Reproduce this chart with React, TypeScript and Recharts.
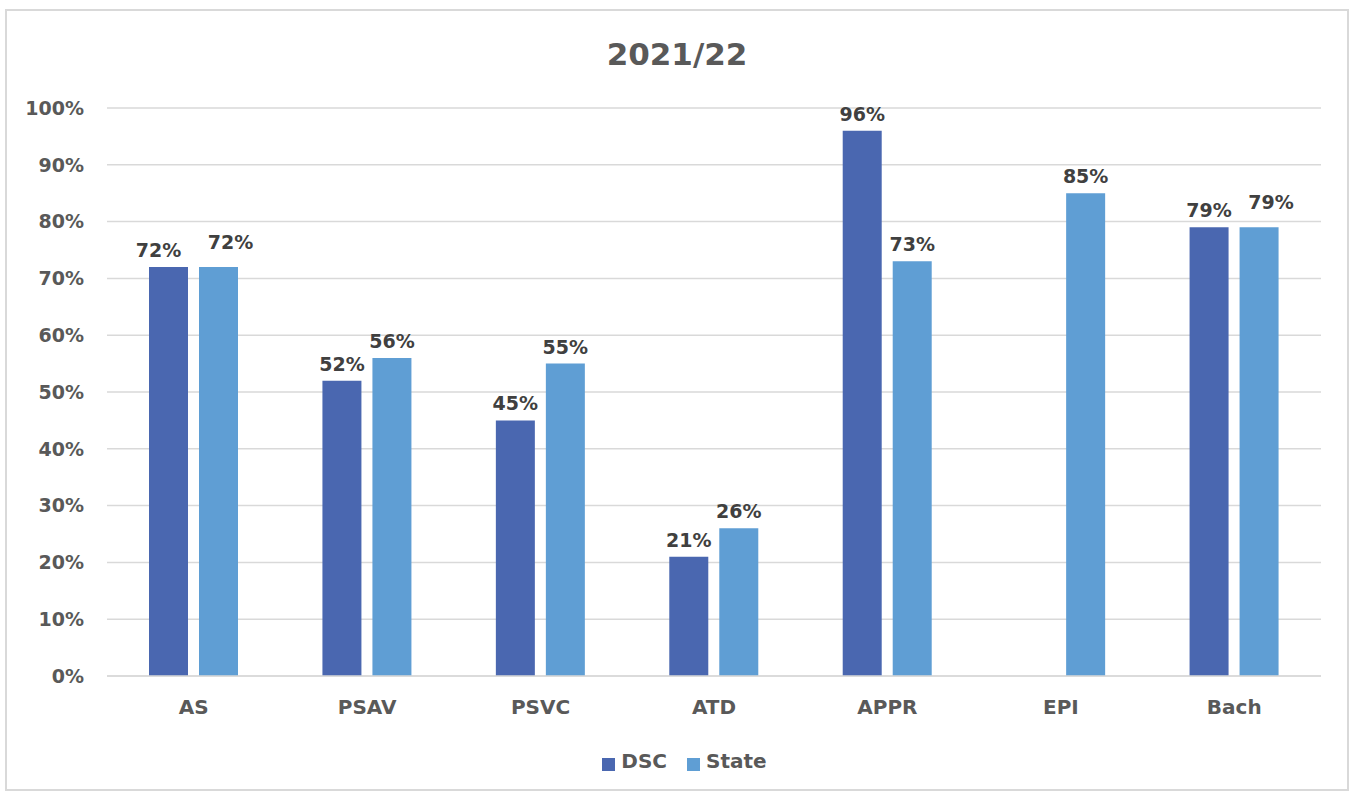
import { Bar, BarChart, CartesianGrid, LabelList, Legend, XAxis, YAxis } from 'recharts';

const categories = ['AS', 'PSAV', 'PSVC', 'ATD', 'APPR', 'EPI', 'Bach'];
const dscValues: (number | null)[] = [72, 52, 45, 21, 96, null, 79];
const stateValues: (number | null)[] = [72, 56, 55, 26, 73, 85, 79];
const yTicks = [0, 10, 20, 30, 40, 50, 60, 70, 80, 90, 100];

const data = categories.map((name, i) => ({ name, dsc: dscValues[i], state: stateValues[i] }));

const FONT = '"DejaVu Sans", sans-serif';
const DARK = '#4a67b0';
const LIGHT = '#5f9ed4';
const AXIS_TEXT = '#595959';

// Excel nudges labels apart when both bars are the same height
function makeLabel(series: 'dsc' | 'state') {
  return (props: any) => {
    const { x, y, width, value, index } = props;
    if (value == null) return null;
    const row = data[index];
    const tie = row.dsc != null && row.dsc === row.state;
    const dx = tie ? (series === 'dsc' ? -10 : 12) : 0;
    const dy = tie && series === 'state' ? -8 : 0;
    return (
      <text
        x={x + width / 2 + dx}
        y={y - 10 + dy}
        textAnchor="middle"
        fill="#404040"
        fontFamily={FONT}
        fontWeight="bold"
        fontSize={19}
      >
        {value}%
      </text>
    );
  };
}

export default function App() {
  return (
    <div
      style={{
        position: 'absolute',
        left: 5,
        top: 9,
        width: 1340,
        height: 778,
        border: '2px solid #d9d9d9',
        background: '#fff',
      }}
    >
      <div
        style={{
          position: 'absolute',
          top: 25,
          width: '100%',
          textAlign: 'center',
          fontFamily: FONT,
          fontWeight: 'bold',
          fontSize: 31,
          color: AXIS_TEXT,
        }}
      >
        2021/22
      </div>
      <BarChart
        width={1340}
        height={778}
        data={data}
        margin={{ top: 97, right: 26, bottom: 0, left: 25 }}
        barSize={39}
        barGap={11}
      >
        <CartesianGrid stroke="#d9d9d9" strokeWidth={1.5} vertical={false} />
        <XAxis
          dataKey="name"
          height={73}
          tick={{ fill: AXIS_TEXT, fontSize: 20, fontWeight: 'bold', fontFamily: FONT }}
          tickLine={false}
          axisLine={{ stroke: '#d9d9d9', strokeWidth: 1.5 }}
          tickMargin={18}
        />
        <YAxis
          width={75}
          domain={[0, 100]}
          ticks={yTicks}
          tickFormatter={(v) => `${v}%`}
          tick={{ fill: AXIS_TEXT, fontSize: 19, fontWeight: 'bold', fontFamily: FONT }}
          tickLine={false}
          axisLine={false}
          tickMargin={17}
        />
        <Legend
          height={40}
          verticalAlign="bottom"
          iconType="square"
          iconSize={13}
          wrapperStyle={{ paddingLeft: 18 }}
          formatter={(v) => (
            <span
              style={{
                color: AXIS_TEXT,
                fontFamily: FONT,
                fontWeight: 'bold',
                fontSize: 20,
                marginLeft: 2,
                marginRight: 10,
              }}
            >
              {v}
            </span>
          )}
        />
        <Bar dataKey="dsc" name="DSC" fill={DARK} isAnimationActive={false}>
          <LabelList dataKey="dsc" content={makeLabel('dsc')} />
        </Bar>
        <Bar dataKey="state" name="State" fill={LIGHT} isAnimationActive={false}>
          <LabelList dataKey="state" content={makeLabel('state')} />
        </Bar>
      </BarChart>
    </div>
  );
}
